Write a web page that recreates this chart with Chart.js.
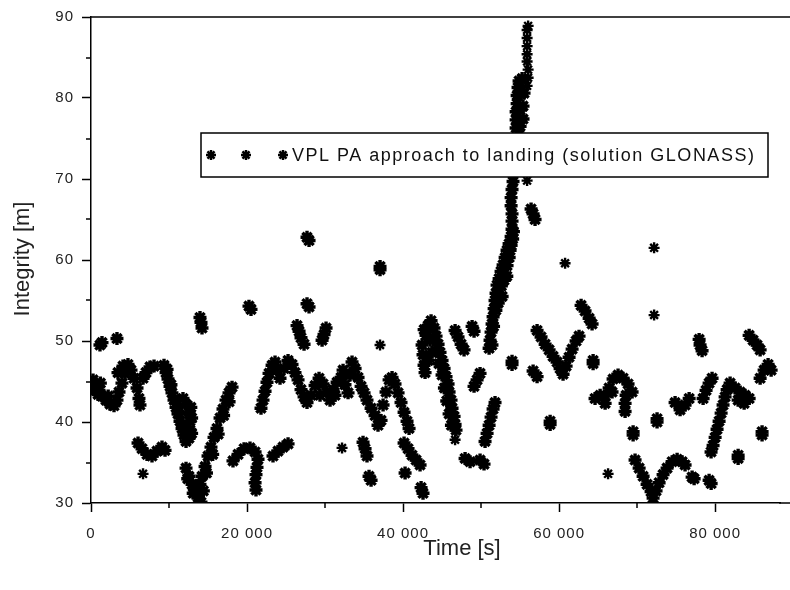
<!DOCTYPE html>
<html>
<head>
<meta charset="utf-8">
<script src="https://cdn.jsdelivr.net/npm/chart.js@4/dist/chart.umd.min.js"></script>
<style>
html,body{margin:0;padding:0;background:#fff;}
#wrap{width:790px;height:590px;}
</style>
</head>
<body>
<div id="wrap"><canvas id="c" width="790" height="590"></canvas></div>
<script>
// ---- Data: time [s], VPL integrity [m] ----
const xTicks = [0, 20000, 40000, 60000, 80000];
const yTicks = [30, 40, 50, 60, 70, 80, 90];
const legendLabel = "VPL PA approach to landing (solution GLONASS)";

const segStart = [[0,44.8],[260,45.2],[640,44.5],[900,43.4],[1030,43.9],[1200,44.8],[1410,43.2],[1920,42.7],[2200,43.2],[2440,42.2],[2950,42.0],[3330,42.7],[3590,43.7],[3460,46.1],[3970,44.8],[4100,46.9],[4360,46.0],[4740,47.1],[5130,46.4],[5510,45.4],[5900,44.2],[6150,42.9],[6280,42.1],[6670,45.4],[7050,46.1],[7560,46.8],[8080,46.9],[500,44.0],[1150,49.5],[1410,49.8],[3330,50.3]];
const segDrop = [[9360,47.0],[9620,46.1],[9870,45.3],[10130,44.4],[10380,43.6],[10640,42.7],[10900,41.8],[11150,41.0],[11410,40.1],[11670,39.2],[11920,38.4],[12180,37.6],[12560,38.0],[12690,39.0],[12690,40.1],[12560,41.2],[12180,42.2],[11790,42.9],[9750,46.5],[10250,44.6],[10750,42.8],[11250,41.0],[11750,39.6],[12300,38.3],[12900,38.6],[12900,40.5],[12800,41.8]];
const segW37 = [[6030,37.4],[6540,36.7],[7180,36.0],[7820,35.8],[8460,36.4],[9100,36.9],[9490,36.5]];
const segTop14 = [[13970,52.9],[14100,52.3],[14230,51.6]];
const segV14 = [[12180,34.3],[12560,33.3],[12950,32.3],[13330,31.5],[13720,30.7],[14100,30.1],[13970,32.3],[14230,33.3],[14620,34.5],[15000,35.8],[15380,36.9],[15770,38.1],[16150,39.2],[16540,40.5],[16920,41.6],[17310,42.7],[17690,43.6],[18080,44.3],[12400,33.0],[13100,31.2],[14400,31.5],[14800,33.7],[15600,36.0],[16300,38.5],[17000,40.8],[17700,42.5]];
const segCurl20 = [[18200,35.2],[18850,36.0],[19620,36.7],[20380,36.8],[21030,36.3],[21410,35.4],[21280,34.4],[21150,33.5],[21030,32.5],[21150,31.6],[20250,54.3],[20510,53.9],[23330,35.8],[23970,36.4],[24620,36.9],[25260,37.3]];
const segWave = [[21790,41.7],[22050,42.7],[22310,43.8],[22560,44.9],[22820,46.0],[23210,47.0],[23590,47.4],[23850,46.4],[24230,45.4],[24740,46.6],[25260,47.6],[25770,47.1],[26150,46.1],[26540,45.2],[26920,44.0],[27310,43.1],[27690,42.4],[28210,43.3],[28720,44.5],[29230,45.4],[29740,44.7],[30260,43.7],[30640,42.7],[31030,44.0],[31540,44.9],[32050,45.5],[32560,44.6],[32950,43.6],[33210,45.8],[33460,47.4],[33850,46.6],[34230,45.5],[34620,44.4],[35000,43.6],[35380,42.7],[35900,41.7],[36410,40.8],[36790,39.6],[37180,40.2],[37440,42.1],[37820,43.7],[38210,45.2],[38590,45.5],[38970,44.7],[39360,43.6],[39740,42.4],[40130,41.2],[40510,40.1],[40770,39.2],[29360,43.3],[31280,43.3],[32310,46.4]];
const segMid30 = [[26410,51.9],[26670,51.2],[26920,50.4],[27310,49.6],[29620,50.1],[29870,50.8],[30130,51.6],[27690,62.8],[27950,62.4],[27690,54.6],[27950,54.2],[37050,59.2],[37050,58.8],[34870,37.5],[35130,36.7],[35380,35.8],[35640,33.3],[35900,32.8],[40130,37.4],[40640,36.7],[41150,35.9],[41670,35.3],[42180,34.7],[40260,33.7],[42310,31.9],[42560,31.2]];
const segD44 = [[42440,49.5],[42560,48.3],[42690,47.0],[42820,46.1],[42950,50.7],[43210,51.9],[43590,52.5],[43970,51.6],[44230,50.6],[44490,49.6],[44740,48.6],[45000,47.6],[45260,46.6],[45510,45.6],[45770,44.7],[45900,43.7],[46150,42.7],[46280,41.7],[46540,40.7],[46670,39.7],[46790,39.0],[43460,50.1],[43720,48.6],[43210,47.6],[42700,51.4],[43900,50.4],[44200,48.8],[44600,47.2],[45000,45.8],[45300,44.2],[45600,42.6],[45900,41.0],[46200,39.6],[47950,35.5],[48590,35.1],[49870,35.3],[50380,34.8],[46670,51.3],[47050,50.5],[47440,49.6],[47820,48.9],[48850,51.8],[49100,51.2],[49100,44.4],[49490,45.2],[49870,46.0],[50510,37.6],[50770,38.6],[51030,39.6],[51280,40.6],[51540,41.6],[51790,42.4]];
const segSpike = [[51030,49.1],[51150,50.1],[51280,51.1],[51410,52.1],[51540,53.0],[51670,54.0],[51790,55.0],[51920,55.9],[52050,56.9],[52310,57.7],[52560,58.6],[52820,59.4],[53080,60.3],[53330,61.2],[53590,62.0],[53850,62.9],[52950,57.5],[53330,59.3],[52310,55.6],[53720,61.2],[51400,49.5],[51600,51.8],[51900,53.8],[52200,54.7],[52600,56.8],[52900,58.3],[53300,58.0],[53600,60.3],[53850,61.8],[54050,62.6],[54150,63.5],[52700,55.5],[53970,63.8],[53970,64.8],[53970,65.7],[53850,66.7],[53850,67.7],[53970,68.7],[54100,69.7],[54100,70.7],[54230,71.6],[54230,72.6],[54360,73.6],[54490,74.6],[54490,76.3],[54490,77.3],[54490,78.3],[54620,79.3],[54620,80.3],[54740,81.3],[54870,82.1],[55260,82.4],[55380,77.4],[55380,79.0],[55510,80.6],[55000,76.5],[55000,78.5],[55130,80.5],[54870,75.5]];
const segSpikeTop = [[55900,81.5],[56030,82.5],[56030,83.5],[55900,84.5],[55900,85.4],[55900,86.4],[55900,87.4],[55900,88.4],[56030,88.9]];
const segAfter56 = [[56410,66.3],[56670,65.7],[56920,65.0],[53970,47.5],[53970,47.1],[56670,46.3],[57180,45.6],[58850,40.1],[58850,39.7],[57180,51.3],[57690,50.5],[58210,49.6],[58720,48.9],[59230,48.1],[59740,47.4],[60130,46.6],[60510,45.9],[60900,46.9],[61280,48.0],[61670,49.0],[62180,50.0],[62560,50.6],[62820,54.4],[63330,53.7],[63850,52.8],[64230,52.1],[64360,47.6],[64360,47.2]];
const segN67 = [[64610,42.9],[65260,43.3],[65900,43.2],[66410,44.2],[66920,45.3],[67560,45.8],[68200,45.4],[68840,44.7],[69360,43.7],[68590,43.3],[68460,42.3],[68460,41.3],[66790,43.7],[65900,42.3],[69490,38.8],[69490,38.4],[72560,40.4],[72560,40.0]];
const segV72 = [[69740,35.3],[70260,34.3],[70770,33.3],[71280,32.3],[71790,31.4],[72050,30.6],[72430,31.5],[72820,32.5],[73330,33.5],[73840,34.3],[74490,35.1],[75130,35.4],[75770,35.1],[76150,34.7],[77050,33.2],[77310,33.0],[79230,32.8],[79490,32.4]];
const segEnd = [[77950,50.2],[78070,49.5],[78330,48.8],[74870,42.4],[75510,41.5],[76150,42.1],[76670,42.9],[78460,42.9],[78840,43.9],[79230,44.8],[79610,45.4],[79480,36.3],[79740,37.1],[80000,38.1],[80250,39.1],[80510,40.1],[80770,41.1],[81020,42.1],[81280,43.1],[81540,44.0],[81920,44.8],[82560,44.2],[83200,43.7],[83840,43.3],[84360,42.9],[83720,42.3],[82950,42.7],[82950,35.9],[82950,35.5],[84360,50.7],[84870,50.1],[85380,49.5],[85770,48.9],[85770,45.4],[86280,46.4],[86790,47.1],[87180,46.4],[86020,38.8],[86020,38.4]];
// isolated single readings
const segSingles = [[6670,33.6],[32180,36.8],[37050,49.5],[46670,37.8],[55900,69.8],[60770,59.6],[66280,33.6],[72180,61.5],[72180,53.2]];

const toPts = arr => arr.map(p => ({x: p[0], y: p[1]}));
const thickSegments = [segStart, segDrop, segW37, segTop14, segV14, segCurl20, segWave, segMid30, segD44, segSpike, segAfter56, segN67, segV72, segEnd];
const thickPts = [];
thickSegments.forEach(s => thickPts.push(...toPts(s)));
const thinPts = toPts(segSpikeTop.concat(segSingles));

function fmt(v){ return String(v).replace(/\B(?=(\d{3})+(?!\d))/g, ' '); }

const spacing = {
  id: 'spacing',
  beforeDraw(chart){ chart.ctx.letterSpacing = '1px'; }
};

const decor = {
  id: 'decor',
  afterDraw(chart){
    const ctx = chart.ctx, a = chart.chartArea;
    const xs = chart.scales.x, ys = chart.scales.y;
    ctx.save();
    ctx.strokeStyle = '#000';
    ctx.lineWidth = 1.5;
    ctx.beginPath(); ctx.moveTo(a.left, a.top); ctx.lineTo(790, a.top); ctx.stroke();
    ctx.beginPath(); ctx.moveTo(a.right - 1, a.bottom); ctx.lineTo(790, a.bottom); ctx.stroke();
    [10000,30000,50000,70000].forEach(v => {
      const px = Math.round(xs.getPixelForValue(v));
      ctx.beginPath(); ctx.moveTo(px, a.bottom); ctx.lineTo(px, a.bottom + 5); ctx.stroke();
    });
    [35,45,55,65,75,85].forEach(v => {
      const py = Math.round(ys.getPixelForValue(v));
      ctx.beginPath(); ctx.moveTo(a.left, py); ctx.lineTo(a.left - 5, py); ctx.stroke();
    });
    // legend box
    ctx.fillStyle = '#fff';
    ctx.fillRect(201, 133, 567, 44);
    ctx.lineWidth = 1.5;
    ctx.strokeRect(201, 133, 567, 44);
    const opts = {pointStyle: 'star', radius: 5, borderWidth: 2.5};
    [211, 246, 283].forEach(x => {
      ctx.strokeStyle = '#000';
      ctx.lineWidth = 2.5;
      Chart.helpers.drawPoint(ctx, opts, x, 155);
    });
    ctx.fillStyle = '#111';
    ctx.font = '18px "Liberation Sans", Arial, sans-serif';
    ctx.letterSpacing = '1.5px';
    ctx.textAlign = 'left';
    ctx.textBaseline = 'middle';
    ctx.fillText(legendLabel, 292, 156);
    // axis titles
    ctx.letterSpacing = '0px';
    ctx.fillStyle = '#222';
    ctx.font = '22px "Liberation Sans", Arial, sans-serif';
    ctx.textAlign = 'center';
    ctx.fillText('Time [s]', 462, 549);
    ctx.translate(23, 259);
    ctx.rotate(-Math.PI/2);
    ctx.fillText('Integrity [m]', 0, 0);
    ctx.restore();
  }
};

const tickFont = {family: '"Liberation Sans", Arial, sans-serif', size: 15};

new Chart(document.getElementById('c'), {
  type: 'scatter',
  data: {
    datasets: [{
      label: legendLabel,
      data: thickPts,
      pointStyle: 'star',
      pointRadius: 6.5,
      pointBorderWidth: 3.4,
      borderColor: '#000',
      backgroundColor: '#000',
      clip: 0
    }, {
      label: legendLabel,
      data: thinPts,
      pointStyle: 'star',
      pointRadius: 5.5,
      pointBorderWidth: 2.4,
      borderColor: '#000',
      backgroundColor: '#000',
      clip: 0
    }]
  },
  options: {
    responsive: false,
    animation: false,
    events: [],
    layout: {padding: {top: 16, right: 0, left: 0, bottom: 0}},
    plugins: {legend: {display: false}, tooltip: {enabled: false}},
    scales: {
      x: {
        type: 'linear', min: 0, max: 88330,
        afterFit(s){ s.height = 87; },
        afterBuildTicks(s){ s.ticks = xTicks.map(v => ({value: v})); },
        grid: {drawOnChartArea: false, drawTicks: true, tickLength: 9, tickColor: '#000', tickWidth: 1.5},
        border: {display: true, color: '#000', width: 1.5},
        ticks: {color: '#222', font: tickFont, padding: 13, maxRotation: 0, callback: v => fmt(v)}
      },
      y: {
        type: 'linear', min: 30, max: 90,
        afterFit(s){ s.width = 91; },
        afterBuildTicks(s){ s.ticks = yTicks.map(v => ({value: v})); },
        grid: {drawOnChartArea: false, drawTicks: true, tickLength: 9, tickColor: '#000', tickWidth: 1.5},
        border: {display: true, color: '#000', width: 1.5},
        ticks: {color: '#222', font: tickFont, padding: 8}
      }
    }
  },
  plugins: [spacing, decor]
});
</script>
</body>
</html>
